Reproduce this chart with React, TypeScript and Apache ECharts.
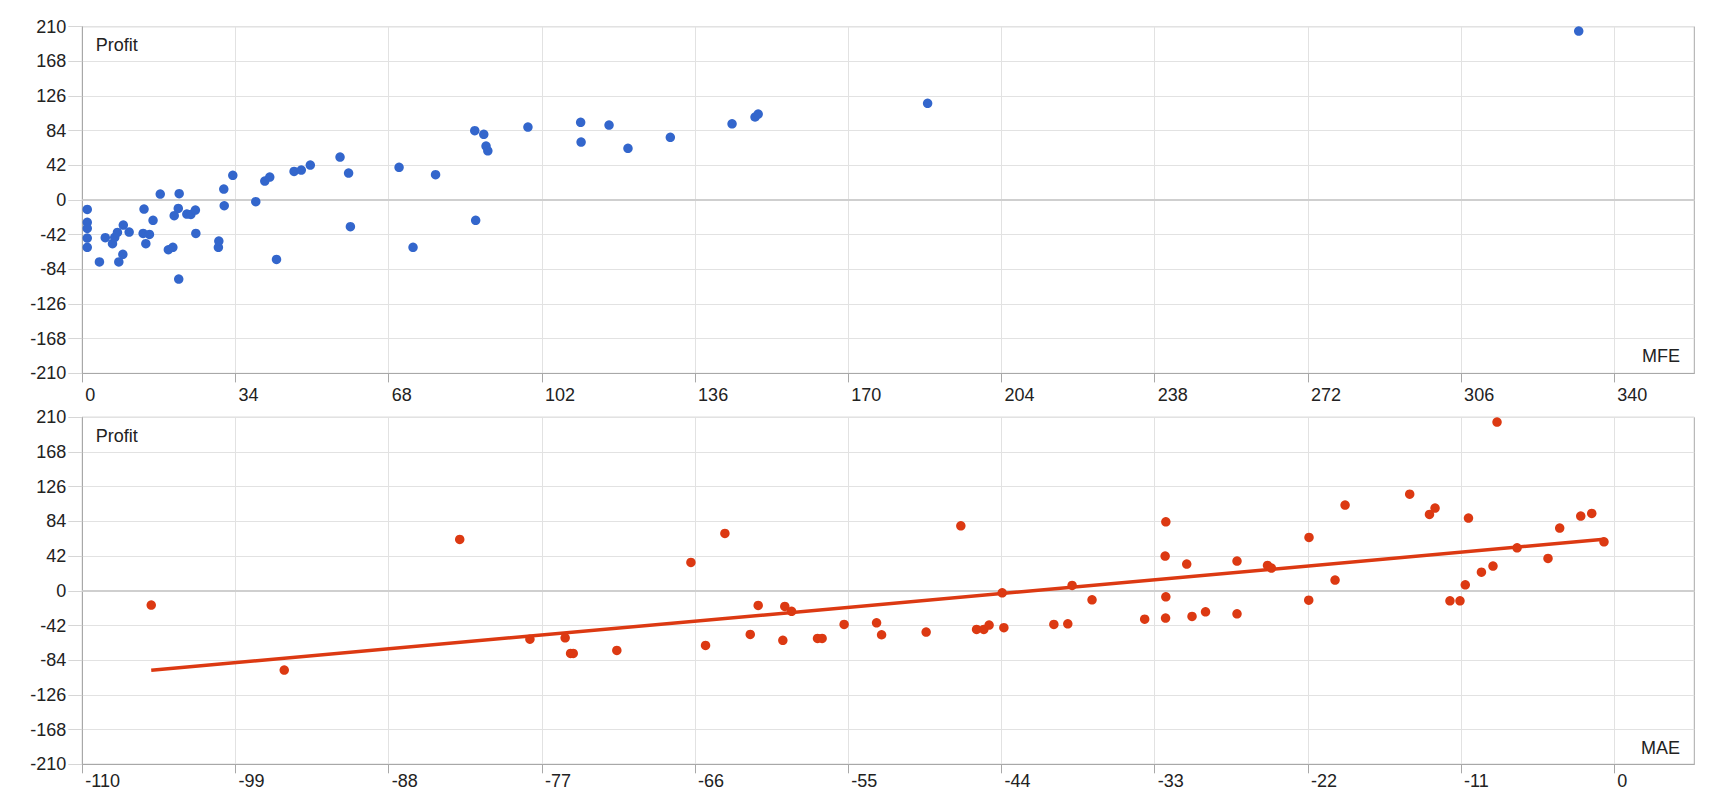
import React, { useEffect, useRef } from "react";
import * as echarts from "echarts";

// ---- Data ----
const mfeValues = [
  1.1, 1.1, 1.1, 1.1, 1.1, 3.8, 5.1, 6.7, 7.2, 7.8, 8.1, 9.0, 9.1, 10.4, 13.7, 13.5,
  14.9, 14.1, 15.7, 17.3, 19.1, 20.1, 20.4, 21.3, 21.5, 21.4, 23.2, 24.1, 25.1, 25.2,
  30.2, 30.3, 31.4, 31.5, 33.4, 38.5, 40.5, 41.6, 43.1, 47.0, 48.6, 50.6, 57.2, 59.1,
  59.5, 70.3, 73.4, 78.4, 87.1, 89.1, 89.6, 90.0, 87.3, 98.9, 110.6, 110.7, 116.9,
  121.1, 130.5, 144.2, 149.3, 150.0, 187.6, 332.1,
];
const mfeProfit = [
  -11.3, -27, -34.3, -46, -57.3, -75, -45.6, -52.9, -45.2, -39.2, -75, -65.8, -30.3,
  -38.8, -10.9, -40.4, -41.6, -52.9, -24.6, 7.3, -60.2, -57.3, -19, -10.1, 7.7, -95.7,
  -17, -17.4, -12.1, -40.4, -57.3, -49.7, 13.3, -6.9, 29.9, -2, 23, 27.9, -71.9, 34.7,
  36.3, 42.4, 52.1, 32.7, -32.3, 39.6, -57.3, 30.7, 84, 79.6, 65.4, 59.7, -24.6, 88.4,
  94.1, 70.3, 90.9, 62.6, 76, 92.4, 100.6, 104.2, 117.2, 204.7,
];

const maeValues = [
  -105.05, -95.5, -82.9, -77.86, -75.33, -74.94, -74.75, -71.62, -66.3, -63.86, -65.25,
  -62.04, -61.47, -59.7, -59.56, -59.07, -57.21, -56.88, -55.3, -52.97, -52.61, -49.41,
  -46.92, -45.79, -45.27, -44.89, -43.95, -43.83, -40.24, -39.24, -38.93, -37.5, -33.72,
  -32.2, -32.25, -32.2, -32.22, -30.7, -30.32, -29.35, -27.09, -27.09, -24.9, -24.62,
  -21.92, -21.94, -20.05, -19.33, -14.69, -13.27, -12.87, -10.47, -11.8, -11.08, -10.7,
  -9.54, -8.71, -8.42, -6.98, -4.76, -3.92, -2.41, -1.62, -0.74,
];
const maeProfit = [
  -17.3, -96, 62.2, -58.5, -56.9, -75.8, -75.8, -72.2, 34.3, 69.5, -66.1, -52.8, -17.7,
  -60, -18.9, -24.9, -57.6, -57.6, -40.7, -38.7, -53.2, -50, 78.7, -46.8, -46.8, -41.5,
  -2.4, -44.7, -40.7, -39.9, 6.5, -10.9, -34.3, 83.5, 42, -7.3, -33, 32.3, -31, -25.4,
  36, -27.8, 30.7, 27.5, 64.6, -11.3, 13, 103.7, 117, 92.5, 100.1, 88, -12.1, -12.1,
  7.3, 22.6, 29.9, 204.2, 52, 39.2, 75.9, 90.4, 93.7, 59.3,
];

const topXTicks = [0, 34, 68, 102, 136, 170, 204, 238, 272, 306, 340];
const bottomXTicks = [-110, -99, -88, -77, -66, -55, -44, -33, -22, -11, 0];
const yTicks = [-210, -168, -126, -84, -42, 0, 42, 84, 126, 168, 210];

const BLUE = "#3366CC";
const RED = "#DC3912";
const FONT = "'Liberation Sans', Arial, sans-serif";
const TEXT = "#222222";
const GRID_C = "#e2e2e2";
const FRAME_C = "#a8a8a8";

function linearFit(xs: number[], ys: number[]) {
  const n = xs.length;
  let mx = 0, my = 0;
  for (let i = 0; i < n; i++) { mx += xs[i]; my += ys[i]; }
  mx /= n; my /= n;
  let sxy = 0, sxx = 0;
  for (let i = 0; i < n; i++) {
    sxy += (xs[i] - mx) * (ys[i] - my);
    sxx += (xs[i] - mx) * (xs[i] - mx);
  }
  const b = sxy / sxx;
  const a = my - b * mx;
  return { a, b };
}

function xAxisCfg(gridIndex: number, min: number, max: number, interval: number, ticks: number[], labelMargin: number) {
  return {
    type: "value",
    gridIndex,
    min,
    max,
    interval,
    axisLine: { show: true, onZero: false, lineStyle: { color: FRAME_C, width: 1 } },
    axisTick: { show: true, length: 9, customValues: ticks, lineStyle: { color: FRAME_C } },
    axisLabel: {
      customValues: ticks,
      align: "left",
      padding: [0, 0, 0, 3],
      margin: labelMargin,
      fontSize: 18,
      fontFamily: FONT,
      color: TEXT,
    },
    splitLine: { show: true, lineStyle: { color: GRID_C, width: 1 } },
  };
}

function yAxisCfg(gridIndex: number) {
  return {
    type: "value",
    gridIndex,
    min: yTicks[0],
    max: yTicks[yTicks.length - 1],
    interval: 42,
    axisLine: { show: true, onZero: false, lineStyle: { color: FRAME_C, width: 1 } },
    axisTick: { show: true, length: 14, inside: false, lineStyle: { color: "#d6d6d6" } },
    axisLabel: {
      margin: 16,
      fontSize: 18,
      fontFamily: FONT,
      color: TEXT,
    },
    splitLine: { show: true, lineStyle: { color: GRID_C, width: 1 } },
  };
}

function zeroLine() {
  return {
    silent: true,
    symbol: "none",
    z: 1,
    label: { show: false },
    lineStyle: { color: "#cfcfcf", width: 2, type: "solid" },
    data: [{ yAxis: 0 }],
  };
}

export default function App() {
  const ref = useRef<HTMLDivElement>(null);

  useEffect(() => {
    document.body.style.margin = "0";
    if (!ref.current) return;
    const chart = echarts.init(ref.current, null, { renderer: "svg" });

    const topData = mfeValues.map((v, i) => [v, mfeProfit[i]]);
    const bottomData = maeValues.map((v, i) => [v, maeProfit[i]]);
    const fit = linearFit(maeValues, maeProfit);
    const xMin = Math.min(...maeValues);
    const xMax = Math.max(...maeValues);
    const trend = [
      [xMin, fit.a + fit.b * xMin],
      [xMax, fit.a + fit.b * xMax],
    ];

    const textStyle = (text: string, x: number, y: number, align: string) => ({
      type: "text",
      x,
      y,
      silent: true,
      z: 10,
      style: {
        text,
        fill: TEXT,
        font: `18px ${FONT}`,
        align,
        verticalAlign: "middle",
      },
    });

    chart.setOption({
      animation: false,
      backgroundColor: "#ffffff",
      grid: [
        { left: 82.3, right: 25.7, top: 26.7, height: 346.7, show: true, borderColor: FRAME_C, borderWidth: 1, backgroundColor: "transparent" },
        { left: 82.3, right: 25.7, top: 417.3, height: 347, show: true, borderColor: FRAME_C, borderWidth: 1, backgroundColor: "transparent" },
      ],
      xAxis: [
        xAxisCfg(0, 0, 357.75, 34, topXTicks, 13),
        xAxisCfg(1, -110, 5.744, 11, bottomXTicks, 8),
      ],
      yAxis: [yAxisCfg(0), yAxisCfg(1)],
      series: [
        {
          type: "scatter",
          xAxisIndex: 0,
          yAxisIndex: 0,
          data: topData,
          symbolSize: 9.5,
          itemStyle: { color: BLUE, opacity: 1 },
          markLine: zeroLine(),
        },
        {
          type: "line",
          xAxisIndex: 1,
          yAxisIndex: 1,
          data: trend,
          symbol: "none",
          lineStyle: { color: RED, width: 3.5 },
          z: 2,
        },
        {
          type: "scatter",
          xAxisIndex: 1,
          yAxisIndex: 1,
          data: bottomData,
          symbolSize: 9.5,
          itemStyle: { color: RED, opacity: 1 },
          markLine: zeroLine(),
          z: 3,
        },
      ],
      graphic: [
        textStyle("Profit", 95.7, 44.5, "left"),
        textStyle("MFE", 1680, 356, "right"),
        textStyle("Profit", 95.7, 435.5, "left"),
        textStyle("MAE", 1680, 747.5, "right"),
      ],
    });

    return () => {
      chart.dispose();
    };
  }, []);

  return <div ref={ref} style={{ width: 1720, height: 800 }} />;
}
